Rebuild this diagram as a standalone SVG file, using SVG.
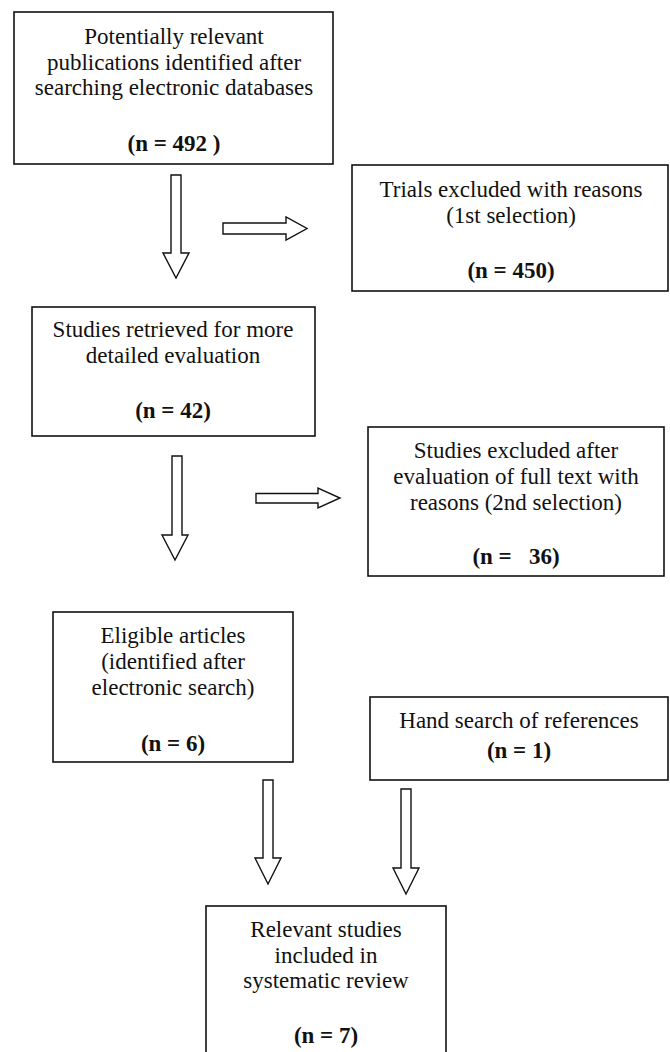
<svg xmlns="http://www.w3.org/2000/svg" width="670" height="1052" viewBox="0 0 670 1052">
<style>
.box{fill:#fff;stroke:#111;stroke-width:1.6}
.arr{fill:#fff;stroke:#111;stroke-width:1.4;stroke-linejoin:miter}
text{font-family:"Liberation Serif","Times New Roman",serif;font-size:23px;fill:#111;text-anchor:middle}
.b{font-weight:bold}
</style>
<rect width="670" height="1052" fill="#fff"/>
<g id="connectors">
<polygon class="arr" points="171,175 181,175 181,253 189,253 176,278 163,253 171,253"/>
<polygon class="arr" points="223,223 286,223 286,217 307,228.5 286,240 286,234 223,234"/>
<polygon class="arr" points="172,456 182,456 182,535 188,535 175,560 162,535 172,535"/>
<polygon class="arr" points="256,493.5 318,493.5 318,488 340,498 318,508 318,503 256,503"/>
<polygon class="arr" points="263,780 273,780 273,858 281,858 268,884 255,858 263,858"/>
<polygon class="arr" points="401,789 411,789 411,868 419,868 406,894 393,868 401,868"/>
</g>
<g id="n1">
<rect class="box" x="14" y="12" width="319" height="152"/>
<text x="174" y="44">Potentially relevant</text>
<text x="174" y="70">publications identified after</text>
<text x="174" y="95">searching electronic databases</text>
<text class="b" x="174" y="151" xml:space="preserve">(n = 492 )</text>
</g>
<g id="n2">
<rect class="box" x="352" y="165" width="316" height="126"/>
<text x="511" y="197">Trials excluded with reasons</text>
<text x="511" y="223">(1st selection)</text>
<text class="b" x="511" y="278">(n = 450)</text>
</g>
<g id="n3">
<rect class="box" x="32" y="307" width="283" height="129"/>
<text x="173" y="337">Studies retrieved for more</text>
<text x="173" y="363">detailed evaluation</text>
<text class="b" x="173" y="418">(n = 42)</text>
</g>
<g id="n4">
<rect class="box" x="368" y="427" width="296" height="149"/>
<text x="516" y="458">Studies excluded after</text>
<text x="516" y="484">evaluation of full text with</text>
<text x="516" y="510">reasons (2nd selection)</text>
<text class="b" x="516" y="564" xml:space="preserve">(n =   36)</text>
</g>
<g id="n5">
<rect class="box" x="53" y="612" width="240" height="150"/>
<text x="173" y="643">Eligible articles</text>
<text x="173" y="669">(identified after</text>
<text x="173" y="695">electronic search)</text>
<text class="b" x="173" y="751">(n = 6)</text>
</g>
<g id="n6">
<rect class="box" x="370" y="697" width="298" height="83"/>
<text x="519" y="728">Hand search of references</text>
<text class="b" x="519" y="758">(n = 1)</text>
</g>
<g id="n7">
<rect class="box" x="206" y="906" width="240" height="160"/>
<text x="326" y="937">Relevant studies</text>
<text x="326" y="963">included in</text>
<text x="326" y="988">systematic review</text>
<text class="b" x="326" y="1043">(n = 7)</text>
</g>
</svg>
